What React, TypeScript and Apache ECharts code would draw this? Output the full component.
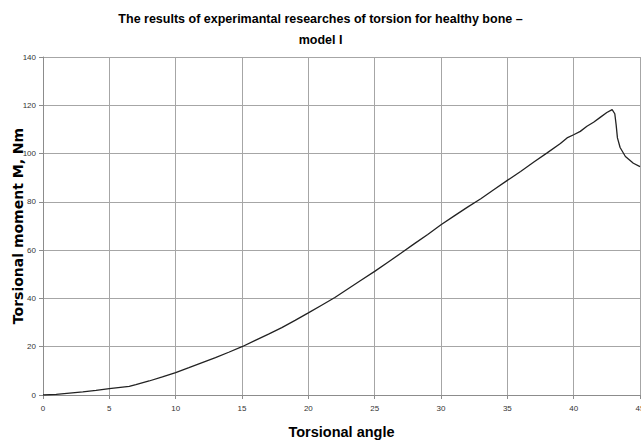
import React, { useEffect, useRef } from "react";
import * as echarts from "echarts";

const titleLines = [
  "The results of experimantal researches of torsion for healthy bone –",
  "model I",
];
const xAxisName = "Torsional angle";
const yAxisName = "Torsional moment M, Nm";

const angle = [
  0, 1, 2, 3, 4, 5, 6, 6.5, 7, 8, 9, 10, 11, 12, 13, 14, 15, 16, 17, 18, 19, 20,
  21, 22, 23, 24, 25, 26, 27, 28, 29, 30, 31, 32, 33, 34, 35, 36, 37, 38, 39,
  39.5, 40, 40.5, 41, 41.5, 42, 42.5, 42.9, 43.1, 43.2, 43.3, 43.5, 43.9, 44.5, 45,
];
const moment = [
  0, 0.3, 0.8, 1.3, 1.9, 2.6, 3.3, 3.6, 4.3, 5.8, 7.5, 9.3, 11.3, 13.4, 15.5,
  17.7, 20.0, 22.6, 25.2, 27.9, 30.9, 34.0, 37.2, 40.4, 44.0, 47.6, 51.2, 55.0,
  58.8, 62.7, 66.5, 70.5, 74.2, 77.8, 81.3, 85.1, 88.9, 92.6, 96.5, 100.3, 104.2,
  106.5, 107.8, 109.2, 111.3, 113.0, 115.0, 117.0, 118.2, 116.5, 112, 106.5,
  102.5, 98.8, 96.0, 94.6,
];

const FONT = "'Liberation Sans', Arial, sans-serif";

export default function App() {
  const ref = useRef<HTMLDivElement>(null);
  useEffect(() => {
    if (!ref.current) return;
    const chart = echarts.init(ref.current, null, { renderer: "svg" });
    const data = angle.map((a, i) => [a, moment[i]]);
    chart.setOption({
      animation: false,
      backgroundColor: "#ffffff",
      title: {
        text: titleLines.join("\n"),
        left: "center",
        top: 3,
        textStyle: {
          fontFamily: FONT,
          fontSize: 12.5,
          fontWeight: "bold",
          color: "#000",
          lineHeight: 21,
        },
      },
      grid: {
        left: 43,
        right: 1,
        top: 57,
        bottom: 45,
        containLabel: false,
        outerBoundsMode: "none",
      },
      xAxis: {
        type: "value",
        min: 0,
        max: 45,
        interval: 5,
        name: xAxisName,
        nameLocation: "middle",
        nameGap: 29,
        nameMoveOverlap: false,
        nameTextStyle: { fontFamily: FONT, fontSize: 14.5, fontWeight: "bold", color: "#000" },
        axisLine: { show: true, lineStyle: { color: "#8c8c8c", width: 1 } },
        axisTick: { show: true, length: 4, lineStyle: { color: "#8c8c8c" } },
        axisLabel: { fontFamily: FONT, fontSize: 8, color: "#333", margin: 9, hideOverlap: false },
        splitLine: { show: true, lineStyle: { color: "#a6a6a6", width: 1 } },
      },
      yAxis: {
        type: "value",
        min: 0,
        max: 140,
        interval: 20,
        name: yAxisName,
        nameLocation: "middle",
        nameGap: 18,
        nameMoveOverlap: false,
        nameTextStyle: {
          fontFamily: "'DejaVu Sans', sans-serif",
          fontSize: 14,
          fontWeight: "bold",
          color: "#000",
        },
        axisLine: { show: true, lineStyle: { color: "#8c8c8c", width: 1 } },
        axisTick: { show: true, length: 4, lineStyle: { color: "#8c8c8c" } },
        axisLabel: { fontFamily: FONT, fontSize: 8, color: "#333", margin: 7 },
        splitLine: { show: true, lineStyle: { color: "#a6a6a6", width: 1 } },
      },
      series: [
        {
          type: "line",
          data,
          showSymbol: false,
          smooth: false,
          lineStyle: { color: "#222", width: 1.3 },
        },
      ],
    });
    return () => chart.dispose();
  }, []);
  return (
    <div
      ref={ref}
      style={{ position: "fixed", left: 0, top: 0, width: 641, height: 440 }}
    />
  );
}
